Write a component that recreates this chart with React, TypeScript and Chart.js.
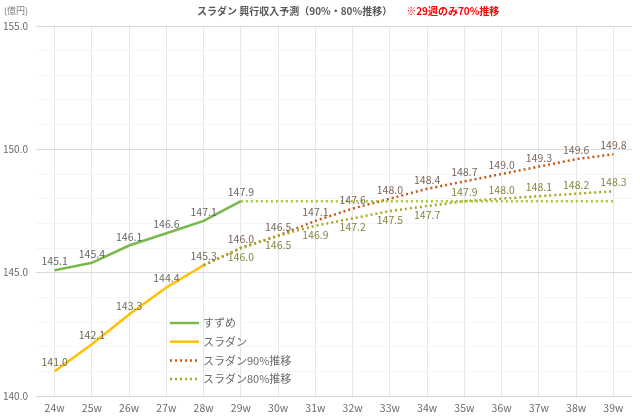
import React, { useEffect, useRef } from "react";
import { Chart, registerables } from "chart.js";

Chart.register(...registerables);

const weeks = ["24w", "25w", "26w", "27w", "28w", "29w", "30w", "31w", "32w", "33w", "34w", "35w", "36w", "37w", "38w", "39w"];
const suzume = [145.1, 145.4, 146.1, 146.6, 147.1, 147.9, null, null, null, null, null, null, null, null, null, null];
const suzumeFlat = [null, null, null, null, null, 147.9, 147.9, 147.9, 147.9, 147.9, 147.9, 147.9, 147.9, 147.9, 147.9, 147.9];
const sladan = [141.0, 142.1, 143.3, 144.4, 145.3, null, null, null, null, null, null, null, null, null, null, null];
const sladan90 = [null, null, null, null, 145.3, 146.0, 146.5, 147.1, 147.6, 148.0, 148.4, 148.7, 149.0, 149.3, 149.6, 149.8];
const sladan80 = [null, null, null, null, 145.3, 146.0, 146.5, 146.9, 147.2, 147.5, 147.7, 147.9, 148.0, 148.1, 148.2, 148.3];
const yTickLabels = [140, 145, 150, 155];

const seriesNames = ["すずめ", "スラダン", "スラダン90%推移", "スラダン80%推移"];
const titleMain = "スラダン 興行収入予測（90%・80%推移）";
const titleNote = "※29週のみ70%推移";
const unitLabel = "(億円)";

// label placement: 'a' above, 'b' below, null none
const labelPos90 = [null, null, null, null, null, "a", "a", "a", "a", "a", "a", "a", "a", "a", "a", "a"];
const labelPos80 = [null, null, null, null, null, "b", "b", "b", "b", "b", "b", "a", "a", "a", "a", "a"];

const FONT = "'Noto Sans CJK JP', 'Noto Sans', sans-serif";

const labelsPlugin = {
  id: "valueLabels",
  afterDatasetsDraw(chart: any) {
    const ctx = chart.ctx;
    ctx.save();
    ctx.font = `10.5px ${FONT}`;
    ctx.textAlign = "center";
    ctx.textBaseline = "middle";
    chart.data.datasets.forEach((ds: any, i: number) => {
      const pos = ds._labelPos;
      if (!pos) return;
      const meta = chart.getDatasetMeta(i);
      meta.data.forEach((pt: any, j: number) => {
        const v = ds.data[j];
        if (v == null) return;
        const p = Array.isArray(pos) ? pos[j] : pos;
        if (!p) return;
        ctx.fillStyle = ds._labelColor;
        const dy = p === "a" ? -9 : 9;
        ctx.fillText(v.toFixed(1), pt.x, pt.y + dy);
      });
    });
    ctx.restore();
  },
};

const decorPlugin = {
  id: "decor",
  afterDraw(chart: any) {
    const ctx = chart.ctx;
    const area = chart.chartArea;
    ctx.save();
    // unit
    ctx.font = `9px ${FONT}`;
    ctx.fillStyle = "#7f7f7f";
    ctx.textAlign = "left";
    ctx.textBaseline = "middle";
    ctx.fillText(unitLabel, 4, 11);
    // title
    ctx.font = `bold 10px ${FONT}`;
    const w1 = ctx.measureText(titleMain).width;
    ctx.fillStyle = "#595959";
    const tx = 197;
    ctx.fillText(titleMain, tx, 11);
    ctx.fillStyle = "#ff0000";
    ctx.fillText(titleNote, tx + w1 + 14, 11);
    // legend
    const lx = area.left + 134;
    const ly0 = area.bottom - 73;
    const gap = 18.7;
    ctx.font = `11px ${FONT}`;
    chart.data.datasets.forEach((ds: any) => {
      if (ds._legendIdx == null) return;
      const y = ly0 + ds._legendIdx * gap;
      ctx.strokeStyle = ds.borderColor;
      ctx.lineWidth = ds.borderWidth;
      ctx.setLineDash(ds.borderDash || []);
      ctx.lineCap = "butt";
      ctx.beginPath();
      ctx.moveTo(lx, y);
      ctx.lineTo(lx + 29, y);
      ctx.stroke();
      ctx.setLineDash([]);
      ctx.fillStyle = "#6b6b6b";
      ctx.fillText(ds.label, lx + 33, y);
    });
    ctx.restore();
  },
};

export default function App() {
  const ref = useRef<HTMLCanvasElement>(null);
  useEffect(() => {
    if (!ref.current) return;
    const dot = [2, 3];
    const chart = new Chart(ref.current, {
      type: "line",
      data: {
        labels: weeks,
        datasets: [
          {
            label: "flat",
            data: suzumeFlat,
            borderColor: "#a8c83a",
            borderWidth: 2.5,
            borderDash: dot,
            pointRadius: 0,
          } as any,
          {
            label: seriesNames[3],
            data: sladan80,
            borderColor: "#a9a826",
            borderWidth: 2.5,
            borderDash: dot,
            pointRadius: 0,
            _labelPos: labelPos80,
            _labelColor: "#858540",
            _legendIdx: 3,
          },
          {
            label: seriesNames[2],
            data: sladan90,
            borderColor: "#c55a11",
            borderWidth: 2.5,
            borderDash: dot,
            pointRadius: 0,
            _labelPos: labelPos90,
            _labelColor: "#7a6558",
            _legendIdx: 2,
          },
          {
            label: seriesNames[1],
            data: sladan,
            borderColor: "#ffc000",
            borderWidth: 2.5,
            pointRadius: 0,
            _labelPos: "a",
            _labelColor: "#6b6b55",
            _legendIdx: 1,
          },
          {
            label: seriesNames[0],
            data: suzume,
            borderColor: "#78b84c",
            borderWidth: 2.5,
            pointRadius: 0,
            _labelPos: "a",
            _labelColor: "#666666",
            _legendIdx: 0,
          },
        ] as any,
      },
      options: {
        responsive: false,
        animation: false,
        spanGaps: false,
        layout: { padding: { top: 26, right: 8, left: 0, bottom: 0 } },
        plugins: {
          legend: { display: false },
          title: { display: false },
          tooltip: { enabled: false },
        },
        scales: {
          x: {
            type: "category",
            offset: true,
            grid: { offset: false, color: "#e6e6e6", drawTicks: false },
            border: { display: false },
            ticks: { color: "#6b6b6b", font: { size: 10.5, family: FONT }, padding: 6, maxRotation: 0, autoSkip: false },
            afterFit: (s: any) => { s.height = 21; },
          },
          y: {
            min: yTickLabels[0],
            max: yTickLabels[yTickLabels.length - 1],
            grid: {
              drawTicks: false,
              color: (c: any) => (yTickLabels.includes(c.tick.value) ? "#d9d9d9" : "#f5f5f5"),
            },
            border: { display: false },
            ticks: {
              stepSize: 1,
              color: "#6b6b6b",
              font: { size: 10, family: FONT },
              padding: 8,
              callback: (v: any) => (yTickLabels.includes(v) ? Number(v).toFixed(1) : ""),
            },
            afterFit: (s: any) => { s.width = 36; },
          },
        },
      },
      plugins: [labelsPlugin, decorPlugin],
    });
    return () => chart.destroy();
  }, []);
  return (
    <div style={{ position: "fixed", left: 0, top: 0, width: 640, height: 417, background: "#fff" }}>
      <canvas ref={ref} width={640} height={417} style={{ width: 640, height: 417 }} />
    </div>
  );
}
